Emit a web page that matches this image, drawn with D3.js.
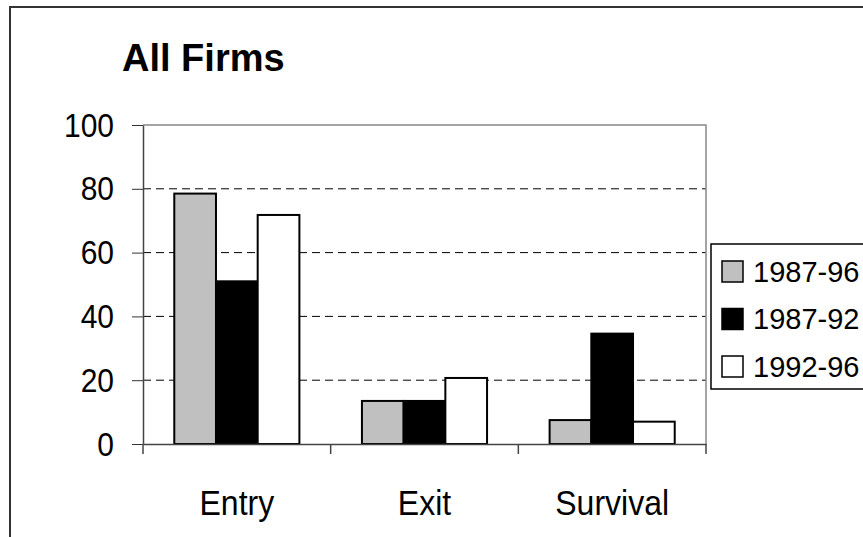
<!DOCTYPE html>
<html><head><meta charset="utf-8">
<script src="https://cdn.jsdelivr.net/npm/d3@7"></script>
<style>
html,body{margin:0;padding:0;background:#fff;}
svg{display:block;font-family:"Liberation Sans",Arial,sans-serif;}
</style></head>
<body>
<svg id="chart" width="863" height="537"></svg>
<script>
const categories = ["Entry", "Exit", "Survival"];
const seriesNames = ["1987-96", "1987-92", "1992-96"];
const values_1987_96 = [78.5, 13.5, 7.5];
const values_1987_92 = [51, 13.5, 34.6];
const values_1992_96 = [71.8, 20.7, 7];
const seriesColors = ["#c0c0c0", "#000000", "#ffffff"];
const yTicks = [0, 20, 40, 60, 80, 100];
const titleText = "All Firms";

const seriesValues = [values_1987_96, values_1987_92, values_1992_96];

const svg = d3.select("#chart");
const plot = {left: 143, right: 706, top: 125, bottom: 444};

// outer frame
svg.append("path")
  .attr("d", `M10,540 V7 H870`)
  .attr("fill", "none").attr("stroke", "#333").attr("stroke-width", 2);

svg.append("text").attr("x", 122).attr("y", 71)
  .attr("font-size", 38).attr("font-weight", "bold").text(titleText);

const y = d3.scaleLinear().domain([0, 100]).range([plot.bottom, plot.top]);
const x0 = d3.scaleBand().domain(categories).range([plot.left, plot.right]).padding(0);
const x1 = d3.scaleBand().domain(seriesNames).range([0, x0.bandwidth()]).paddingInner(0).paddingOuter(0.75);

// gridlines
svg.append("g").selectAll("line").data(yTicks.filter(t => t > 0 && t < 100)).join("line")
  .attr("x1", plot.left).attr("x2", plot.right)
  .attr("y1", d => y(d)).attr("y2", d => y(d))
  .attr("stroke", "#000").attr("stroke-width", 1).attr("stroke-dasharray", "8,5");

// plot border top/right
svg.append("path")
  .attr("d", `M${plot.left},${y(100)} H${plot.right} V${plot.bottom}`)
  .attr("fill", "none").attr("stroke", "#888").attr("stroke-width", 1.5);

// bars
const groups = svg.append("g").selectAll("g").data(categories).join("g")
  .attr("transform", c => `translate(${x0(c)},0)`);
groups.selectAll("rect").data((c, ci) => seriesNames.map((s, si) => ({s, si, v: seriesValues[si][ci]}))).join("rect")
  .attr("x", d => x1(d.s)).attr("width", x1.bandwidth())
  .attr("y", d => y(d.v)).attr("height", d => y(0) - y(d.v))
  .attr("fill", d => seriesColors[d.si]).attr("stroke", "#000").attr("stroke-width", 2);

// y axis
const yAxis = svg.append("g").attr("transform", `translate(${plot.left},0)`)
  .call(d3.axisLeft(y).tickValues(yTicks).tickSize(11).tickPadding(18).tickSizeOuter(0));
yAxis.select(".domain").attr("stroke", "#444").attr("stroke-width", 1.5);
yAxis.selectAll(".tick line").attr("stroke", "#333");
yAxis.selectAll("text").attr("font-size", 30).attr("font-family", "Liberation Sans, Arial, sans-serif").attr("fill", "#000")
  .attr("dy", null).attr("y", 0).attr("transform", "translate(0,11) scale(1,1.1)");

// x axis
const xAxis = svg.append("g").attr("transform", `translate(0,${plot.bottom})`)
  .call(d3.axisBottom(x0).tickSize(0).tickPadding(47).tickSizeOuter(0));
xAxis.select(".domain").attr("stroke", "#444").attr("stroke-width", 1.5);
xAxis.selectAll("text").attr("font-size", 32).attr("font-family", "Liberation Sans, Arial, sans-serif").attr("fill", "#000")
  .attr("dy", null).attr("y", 0).attr("transform", "translate(0,71) scale(1,1.1)");
const bounds = categories.map(c => x0(c)).concat([x0(categories[categories.length - 1]) + x0.bandwidth()]);
svg.append("g").selectAll("line").data(bounds).join("line")
  .attr("x1", d => d).attr("x2", d => d)
  .attr("y1", plot.bottom).attr("y2", plot.bottom + 10)
  .attr("stroke", "#444").attr("stroke-width", 1.5);

// legend
const lg = svg.append("g");
lg.append("rect").attr("x", 711).attr("y", 244).attr("width", 170).attr("height", 145)
  .attr("fill", "#fff").attr("stroke", "#000").attr("stroke-width", 1.5);
const rowY = d3.scalePoint().domain(seriesNames).range([271, 366]);
const items = lg.selectAll("g.item").data(seriesNames).join("g").attr("class", "item")
  .attr("transform", s => `translate(0,${rowY(s)})`);
items.append("rect").attr("x", 722).attr("y", -10).attr("width", 21).attr("height", 21)
  .attr("fill", (s, i) => seriesColors[i]).attr("stroke", "#000").attr("stroke-width", 1.5);
items.append("text").attr("x", 753).attr("y", 10.5).attr("font-size", 29).text(s => s);
</script>
</body></html>
